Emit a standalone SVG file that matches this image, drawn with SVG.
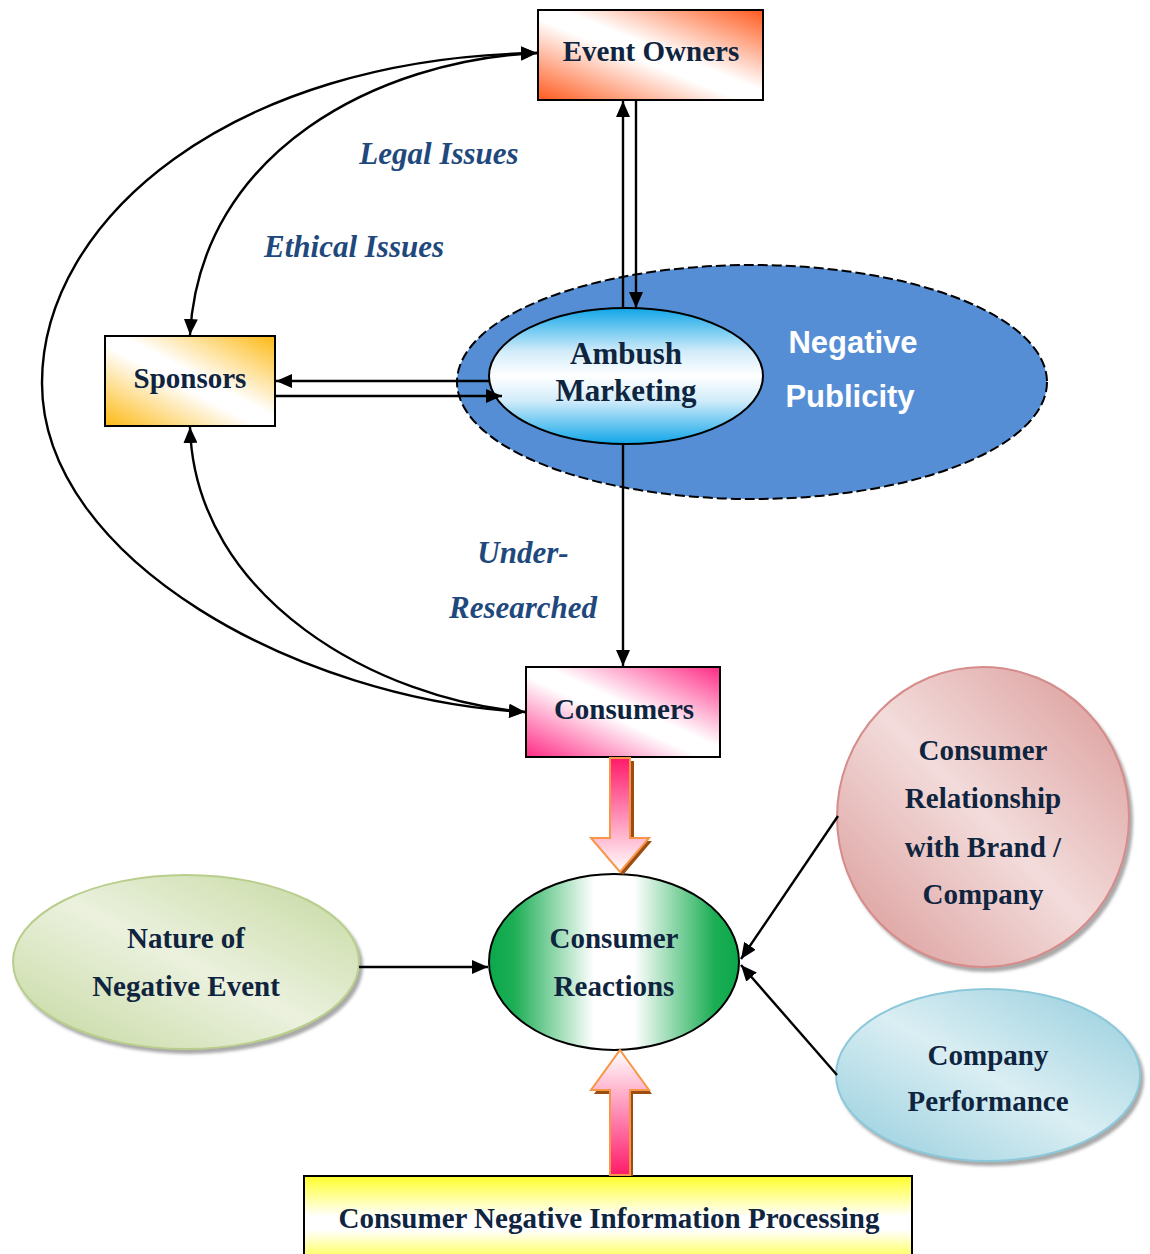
<svg xmlns="http://www.w3.org/2000/svg" width="1150" height="1254" viewBox="0 0 1150 1254">
  <defs>
    <!-- diagonal fills: coloured corners top-right and bottom-left, white band across -->
    <linearGradient id="gOwners" x1="1" y1="0" x2="0" y2="1">
      <stop offset="0" stop-color="#FF5A1E"/>
      <stop offset="0.45" stop-color="#FFFFFF"/>
      <stop offset="0.55" stop-color="#FFFFFF"/>
      <stop offset="1" stop-color="#FF5A1E"/>
    </linearGradient>
    <linearGradient id="gSponsors" x1="1" y1="0" x2="0" y2="1">
      <stop offset="0" stop-color="#FDB913"/>
      <stop offset="0.45" stop-color="#FFFFFF"/>
      <stop offset="0.55" stop-color="#FFFFFF"/>
      <stop offset="1" stop-color="#FDB913"/>
    </linearGradient>
    <linearGradient id="gConsumers" x1="1" y1="0" x2="0" y2="1">
      <stop offset="0" stop-color="#FF2A85"/>
      <stop offset="0.45" stop-color="#FFFFFF"/>
      <stop offset="0.55" stop-color="#FFFFFF"/>
      <stop offset="1" stop-color="#FF2A85"/>
    </linearGradient>
    <linearGradient id="gAmbush" x1="0" y1="0" x2="0" y2="1">
      <stop offset="0" stop-color="#10A6E8"/>
      <stop offset="0.32" stop-color="#D2ECFA"/>
      <stop offset="0.5" stop-color="#FFFFFF"/>
      <stop offset="0.68" stop-color="#D2ECFA"/>
      <stop offset="1" stop-color="#10A6E8"/>
    </linearGradient>
    <linearGradient id="gReactions" x1="0" y1="0" x2="1" y2="0">
      <stop offset="0" stop-color="#0BA84A"/>
      <stop offset="0.1" stop-color="#1DAE55"/>
      <stop offset="0.42" stop-color="#FFFFFF"/>
      <stop offset="0.58" stop-color="#FFFFFF"/>
      <stop offset="0.9" stop-color="#1DAE55"/>
      <stop offset="1" stop-color="#0BA84A"/>
    </linearGradient>
    <linearGradient id="gNature" x1="1" y1="0" x2="0" y2="1">
      <stop offset="0" stop-color="#C4D89E"/>
      <stop offset="0.5" stop-color="#EBF1DE"/>
      <stop offset="1" stop-color="#C4D89E"/>
    </linearGradient>
    <linearGradient id="gRelation" x1="1" y1="0" x2="0" y2="1">
      <stop offset="0" stop-color="#D99694"/>
      <stop offset="0.5" stop-color="#F2DCDB"/>
      <stop offset="1" stop-color="#D99694"/>
    </linearGradient>
    <linearGradient id="gPerformance" x1="1" y1="0" x2="0" y2="1">
      <stop offset="0" stop-color="#93CDDD"/>
      <stop offset="0.5" stop-color="#DAEEF3"/>
      <stop offset="1" stop-color="#93CDDD"/>
    </linearGradient>
    <linearGradient id="gProcessing" x1="0" y1="0" x2="0" y2="1">
      <stop offset="0" stop-color="#FFFF2A"/>
      <stop offset="0.45" stop-color="#FFFFFF"/>
      <stop offset="0.6" stop-color="#FFFFFF"/>
      <stop offset="1" stop-color="#FFFF2A"/>
    </linearGradient>
    <linearGradient id="gArrowDown" x1="0" y1="0" x2="0" y2="1">
      <stop offset="0" stop-color="#FF1A6A"/>
      <stop offset="1" stop-color="#FFFFFF"/>
    </linearGradient>
    <linearGradient id="gArrowUp" x1="0" y1="0" x2="0" y2="1">
      <stop offset="0" stop-color="#FFFFFF"/>
      <stop offset="1" stop-color="#FF1A6A"/>
    </linearGradient>
    <filter id="soft" x="-10%" y="-10%" width="125%" height="125%">
      <feDropShadow dx="3" dy="4" stdDeviation="1.5" flood-color="#6f6f6f" flood-opacity="0.6"/>
    </filter>
    <marker id="head" viewBox="0 0 16 14" refX="16" refY="7" markerWidth="16" markerHeight="14" markerUnits="userSpaceOnUse" orient="auto-start-reverse">
      <path d="M0,0 L16,7 L0,14 Z" fill="#000"/>
    </marker>
    <style>
      .box { stroke: #000; stroke-width: 2; }
      .node { font-family: "Liberation Serif", "Times New Roman", serif; font-weight: bold; font-size: 29px; fill: #0F243E; text-anchor: middle; }
      .label { font-family: "Liberation Serif", "Times New Roman", serif; font-weight: bold; font-style: italic; font-size: 31px; fill: #1F497D; text-anchor: middle; }
      .pub { font-family: "Liberation Sans", Arial, sans-serif; font-weight: bold; font-size: 31px; fill: #FFFFFF; text-anchor: middle; }
      .link { fill: none; stroke: #000; stroke-width: 2.4; }
      .block { stroke: #F79646; stroke-width: 2; stroke-linejoin: miter; }
      .blockShadow { fill: #9C4D12; }
    </style>
  </defs>

  <rect width="1150" height="1254" fill="#FFFFFF"/>

  <!-- halo of negative publicity around ambush marketing -->
  <g id="negative-publicity">
    <ellipse cx="752" cy="382" rx="295" ry="117" fill="#558ED5" stroke="#000" stroke-width="2" stroke-dasharray="10 4"/>
    <text class="pub" x="853" y="353">Negative</text>
    <text class="pub" x="850" y="407">Publicity</text>
  </g>

  <g id="ambush-marketing">
    <ellipse cx="626" cy="376" rx="137" ry="68" fill="url(#gAmbush)" stroke="#000" stroke-width="2"/>
    <text class="node" style="font-size:31px" x="626" y="364">Ambush</text>
    <text class="node" style="font-size:31px" x="626" y="401">Marketing</text>
  </g>

  <g id="event-owners">
    <rect class="box" x="538" y="10" width="225" height="90" fill="url(#gOwners)"/>
    <text class="node" x="651" y="61">Event Owners</text>
  </g>

  <g id="sponsors">
    <rect class="box" x="105" y="336" width="170" height="90" fill="url(#gSponsors)"/>
    <text class="node" x="190" y="388">Sponsors</text>
  </g>

  <g id="consumers">
    <rect class="box" x="526" y="667" width="194" height="90" fill="url(#gConsumers)"/>
    <text class="node" x="624" y="719">Consumers</text>
  </g>

  <g id="consumer-reactions">
    <ellipse cx="614" cy="962" rx="125" ry="88" fill="url(#gReactions)" stroke="#000" stroke-width="2"/>
    <text class="node" x="614" y="948">Consumer</text>
    <text class="node" x="614" y="996">Reactions</text>
  </g>

  <g id="nature-of-negative-event">
    <ellipse cx="186" cy="962" rx="173" ry="87" fill="url(#gNature)" stroke="#B9CE8C" stroke-width="2" filter="url(#soft)"/>
    <text class="node" x="186" y="948">Nature of</text>
    <text class="node" x="186" y="996">Negative Event</text>
  </g>

  <g id="consumer-relationship">
    <ellipse cx="983" cy="817" rx="146" ry="150" fill="url(#gRelation)" stroke="#D58C8B" stroke-width="2" filter="url(#soft)"/>
    <text class="node" x="983" y="760">Consumer</text>
    <text class="node" x="983" y="808">Relationship</text>
    <text class="node" x="983" y="857">with Brand /</text>
    <text class="node" x="983" y="904">Company</text>
  </g>

  <g id="company-performance">
    <ellipse cx="988" cy="1075" rx="152" ry="86" fill="url(#gPerformance)" stroke="#8CC8D9" stroke-width="2" filter="url(#soft)"/>
    <text class="node" x="988" y="1065">Company</text>
    <text class="node" x="988" y="1111">Performance</text>
  </g>

  <g id="negative-information-processing">
    <rect class="box" x="304" y="1176" width="608" height="90" fill="url(#gProcessing)"/>
    <text class="node" x="609" y="1228">Consumer Negative Information Processing</text>
  </g>

  <g id="connectors">
    <!-- event owners and ambush marketing -->
    <line class="link" x1="623" y1="307" x2="623" y2="101" marker-end="url(#head)"/>
    <line class="link" x1="636" y1="101" x2="636" y2="308" marker-end="url(#head)"/>
    <!-- sponsors and ambush marketing -->
    <line class="link" x1="490" y1="381" x2="276" y2="381" marker-end="url(#head)"/>
    <line class="link" x1="276" y1="396" x2="502" y2="396" marker-end="url(#head)"/>
    <!-- ambush marketing down to consumers -->
    <line class="link" x1="623" y1="444" x2="623" y2="666" marker-end="url(#head)"/>
    <!-- curved links on the left -->
    <path class="link" d="M537,53 C230,58 42,220 42,383 C42,560 300,700 525,712" marker-start="url(#head)" marker-end="url(#head)"/>
    <path class="link" d="M537,53 C380,60 200,150 190,335" marker-start="url(#head)" marker-end="url(#head)"/>
    <path class="link" d="M190,427 C195,600 380,700 525,712" marker-start="url(#head)" marker-end="url(#head)"/>
    <!-- factors feeding consumer reactions -->
    <line class="link" x1="359" y1="967" x2="488" y2="967" marker-end="url(#head)"/>
    <line class="link" x1="838" y1="816" x2="741" y2="959" marker-end="url(#head)"/>
    <line class="link" x1="837" y1="1075" x2="741" y2="965" marker-end="url(#head)"/>
    <!-- block arrows -->
    <path class="blockShadow" d="M614,761 L634,761 L634,841 L652,841 L623,875 L594,841 L614,841 Z"/>
    <path class="block" fill="url(#gArrowDown)" d="M610,758 L630,758 L630,838 L649,838 L620,872 L591,838 L610,838 Z"/>
    <path class="blockShadow" d="M622,1054 L652,1094 L633,1094 L633,1176 L613,1176 L613,1094 L594,1094 Z"/>
    <path class="block" fill="url(#gArrowUp)" d="M620,1050 L649,1090 L630,1090 L630,1175 L610,1175 L610,1090 L591,1090 Z"/>
  </g>

  <g id="labels">
    <text class="label" x="439" y="164">Legal Issues</text>
    <text class="label" x="354" y="257">Ethical Issues</text>
    <text class="label" x="523" y="563">Under-</text>
    <text class="label" x="523" y="618">Researched</text>
  </g>
</svg>
